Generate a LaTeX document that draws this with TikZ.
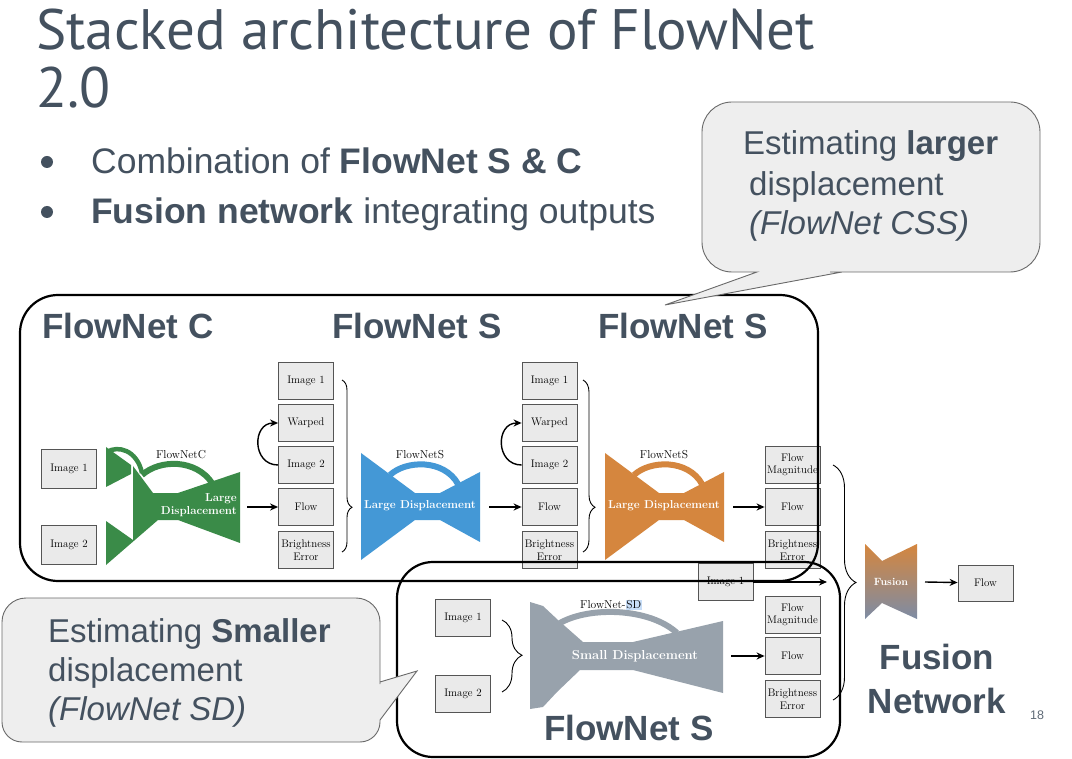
\documentclass[tikz,border=0pt]{standalone}
\usepackage{fontspec}
\newfontfamily\arial{Liberation Sans}
\newfontfamily\titlefont{PT Sans}
\usetikzlibrary{arrows.meta,decorations.pathreplacing}
\definecolor{slate}{RGB}{68,81,95}
\definecolor{boxfill}{RGB}{234,234,234}
\definecolor{boxdraw}{RGB}{85,85,85}
\definecolor{gC}{RGB}{58,139,72}
\definecolor{bS}{RGB}{68,152,214}
\definecolor{oS}{RGB}{213,134,62}
\definecolor{gS}{RGB}{152,162,172}
\definecolor{fusb}{RGB}{125,140,165}
\definecolor{callfill}{RGB}{238,238,238}
\definecolor{callline}{RGB}{105,105,105}
\definecolor{hl}{RGB}{200,222,248}
\newcommand{\bignet}[1]{%
  \fill[#1] (361,453) -- (415,493) -- (440,493) -- (480,472) -- (480,542) -- (440,520) -- (415,520) -- (361,560) -- cycle;
  \draw[#1, line width=6pt] (390,475) .. controls (406,460) and (444,459) .. (458,484);}
\tikzset{
  box/.style={draw=boxdraw, fill=boxfill, line width=0.8pt, minimum width=55pt, minimum height=37pt, inner sep=0pt, align=center, font=\fontsize{11}{12.5}\selectfont},
  arr/.style={-{Stealth[length=8pt,width=7pt]}, line width=1.4pt},
  brc/.style={decorate, line width=0.9pt},
  nettxt/.style={text=white, inner sep=0pt, font=\bfseries\fontsize{11.5}{13.5}\selectfont},
  nettop/.style={inner sep=0pt, font=\fontsize{11.5}{13}\selectfont},
  frame/.style={draw=black, line width=2.2pt, rounded corners=38pt},
  callout/.style={draw=callline, fill=callfill, line width=0.9pt},
  slidetxt/.style={text=slate, inner sep=0pt, anchor=base west, font=\arial\fontsize{33}{40}\selectfont},
  netlabel/.style={text=slate, inner sep=0pt, anchor=base west, font=\arial\bfseries\fontsize{35}{40}\selectfont},
  titletxt/.style={anchor=base west, inner sep=0pt, text=slate, font=\titlefont\fontsize{57}{57}\selectfont}
}
\begin{document}
\begin{tikzpicture}[x=1pt,y=-1pt]
\useasboundingbox (0,0) rectangle (1072,759);
\fill[white] (0,0) rectangle (1072,759);

% ---------- title and bullets
\node[titletxt] (t1) at (36,50) {Stacked architecture of FlowNet};
\node[titletxt] (t2) at (36,108) {2.0};
\fill[slate] (47,162) circle (6);
\fill[slate] (47,212) circle (6);
\node[slidetxt, font=\arial\fontsize{35.5}{40}\selectfont] (b1) at (91,174) {Combination of \textbf{FlowNet S \& C}};
\node[slidetxt, font=\arial\fontsize{35.5}{40}\selectfont] (b2) at (91,224) {\textbf{Fusion network} integrating outputs};

% ---------- FlowNetC (green)
\fill[gC] (106,447) -- (131,465) -- (131,474) -- (106,487) -- cycle;
\fill[gC] (133,466) -- (153,493) -- (178,493) -- (240,472) -- (240,543) -- (178,520) -- (158,520) -- (106,565) -- (106,521) -- (133,540) -- cycle;
\draw[gC, line width=4.5pt] (107,452) .. controls (118,445) and (137,450) .. (142,473);
\draw[gC, line width=6pt] (142,475) .. controls (160,459) and (196,459) .. (212,483);
\node[nettop] (gct) at (181,455) {FlowNetC};
\node[nettxt, align=right, anchor=east] (gcl) at (237,505) {Large\\Displacement};

% ---------- FlowNetS (blue, orange)
\bignet{bS}
\begin{scope}[xshift=244pt]\bignet{oS}\end{scope}
\node[nettop] (bst) at (420,455) {FlowNetS};
\node[nettxt] (bsl) at (420,506) {Large Displacement};
\node[nettop] (ost) at (664,455) {FlowNetS};
\node[nettxt] (osl) at (664,506) {Large Displacement};

% ---------- FlowNet-SD (gray)
\fill[gS] (530,602) -- (543,606) -- (558,620) -- (583,642) -- (633,642) -- (723,621) -- (723,693) -- (633,670) -- (580,670) -- (557,692) -- (543,707) -- (530,709) -- cycle;
\draw[gS, line width=6pt] (560,623) .. controls (590,606) and (650,608) .. (677,633);
\node[nettop] (sdt) at (611,605) {FlowNet-{\fboxsep=0.6pt\colorbox{hl}{SD}}};
\node[nettxt, font=\bfseries\fontsize{13}{15}\selectfont] (sdl) at (635,656) {Small Displacement};

% ---------- Fusion
\shade[top color=oS, bottom color=fusb] (865,544) -- (882,561) -- (917,544) -- (917,619) -- (882,603) -- (865,619) -- cycle;
\node[nettxt, font=\bfseries\fontsize{10.5}{12}\selectfont] (fut) at (891,582) {Fusion};

% ---------- boxes
\node[box, minimum height=39pt] (ci1) at (69,469) {Image 1};
\node[box, minimum height=39pt] (ci2) at (69,545) {Image 2};

\node[box] (a1) at (306,381) {Image 1};
\node[box] (a2) at (306,423) {Warped};
\node[box] (a3) at (306,465) {Image 2};
\node[box] (a4) at (306,507) {Flow};
\node[box] (a5) at (306,550) {Brightness\\Error};

\node[box] (b1x) at (549.5,381) {Image 1};
\node[box] (b2x) at (549.5,423) {Warped};
\node[box] (b3x) at (549.5,465) {Image 2};
\node[box] (b4x) at (549.5,507) {Flow};
\node[box] (b5x) at (549.5,550) {Brightness\\Error};

\node[box] (c1) at (792.5,465) {Flow\\Magnitude};
\node[box] (c2) at (792.5,507) {Flow};
\node[box] (c3) at (792.5,550) {Brightness\\Error};

\node[box] (fi1) at (725.5,582) {Image 1};

\node[box] (s1) at (463,618) {Image 1};
\node[box] (s2) at (463,694) {Image 2};

\node[box] (d1) at (792.5,615) {Flow\\Magnitude};
\node[box] (d2) at (792.5,656) {Flow};
\node[box] (d3) at (792.5,699) {Brightness\\Error};

\node[box, minimum height=36pt] (fo) at (985.5,583) {Flow};

% ---------- arrows
\coordinate (gout) at (247,507);
\coordinate (bout) at (489,507);
\coordinate (oout) at (733,507);
\coordinate (sout) at (731,656);
\coordinate (fin) at (827,582);
\coordinate (fout) at (925,582);
\draw[arr] (gout) -- (a4);
\draw[arr] (bout) -- (b4x);
\draw[arr] (oout) -- (c2);
\draw[arr] (sout) -- (d2);
\draw[arr] (fout) -- (fo);
\draw[arr] (a3.west) to[out=180, in=180, looseness=1.6] (a2.west);
\draw[arr] (b3x.west) to[out=180, in=180, looseness=1.6] (b2x.west);

% ---------- braces
\draw[brc, decoration={brace, amplitude=10pt, aspect=0.74}] (342,380) -- (342,552);
\draw[brc, decoration={brace, amplitude=12pt, aspect=0.74}] (583,380) -- (583,552);
\draw[brc, decoration={brace, amplitude=20pt, aspect=0.49}] (502,620) -- (502,692);
\draw[brc, decoration={brace, amplitude=23pt, aspect=0.50}] (833,465) -- (833,700);

% ---------- frames
\draw[frame] (20,295) rectangle (818,581);
\draw[frame, rounded corners=36pt] (397,562) rectangle (840,757);
\draw[arr] (fi1.east) -- (fin);

% ---------- frame labels
\node[netlabel] (lc) at (42,339) {FlowNet C};
\node[netlabel] (ls1) at (332,339) {FlowNet S};
\node[netlabel] (ls2) at (598,339) {FlowNet S};
\node[netlabel] (ls3) at (544,740) {FlowNet S};
\node[netlabel, anchor=base] (fn1) at (937,669) {Fusion};
\node[netlabel, anchor=base] (fn2) at (937,713) {Network};
\node[anchor=base west, inner sep=0pt, text=slate!85, font=\arial\fontsize{12.5}{14}\selectfont] (pg) at (1030,719) {18};

% ---------- callouts
\draw[callout] (702,187) [rounded corners=30pt] -- (702,102) -- (1040,102) -- (1040,272) -- (860,272) [sharp corners] -- (842,272) -- (665,305) -- (757,272) -- (745,272) [rounded corners=30pt] -- (702,272) -- (702,187) [sharp corners] -- cycle;
\node[slidetxt] (ct1) at (743,155) {Estimating \textbf{larger}};
\node[slidetxt] (ct2) at (749,196) {displacement};
\node[slidetxt] (ct3) at (749,235) {\itshape (FlowNet CSS)};

\draw[callout] (2,670) [rounded corners=24pt] -- (2,598) -- (380,598) -- (380,660) [sharp corners] -- (380,682) -- (417,671) -- (380,720) -- (380,721) [rounded corners=20pt] -- (380,742) -- (2,742) -- (2,670) [sharp corners] -- cycle;
\node[slidetxt] (cs1) at (48,642) {Estimating \textbf{Smaller}};
\node[slidetxt] (cs2) at (48,681) {displacement};
\node[slidetxt] (cs3) at (48,720) {\itshape (FlowNet SD)};
\end{tikzpicture}
\end{document}
